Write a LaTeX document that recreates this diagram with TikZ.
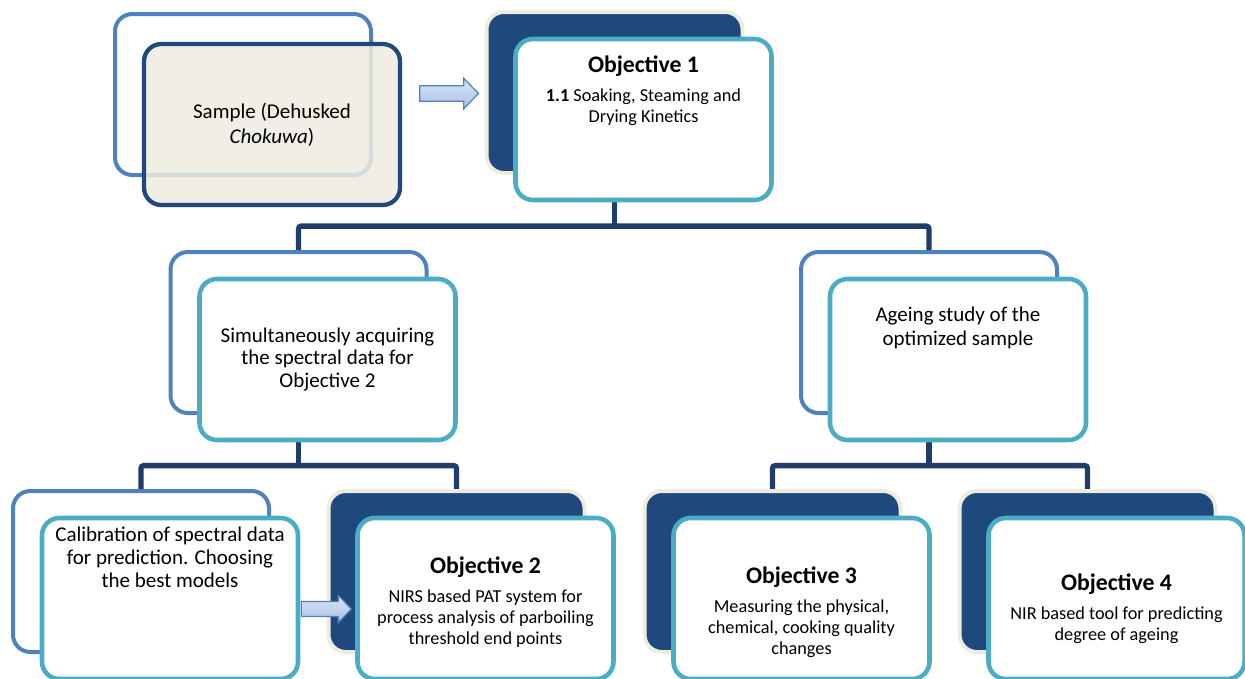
\documentclass[tikz,border=0pt]{standalone}
\usepackage{fontspec}
\setmainfont{Carlito}
\usetikzlibrary{positioning,calc,shapes.arrows,backgrounds}

\definecolor{lineblue}{HTML}{4F81BD}
\definecolor{tealblue}{HTML}{4BACC6}
\definecolor{navyfill}{HTML}{1F497D}
\definecolor{creamline}{HTML}{EEECE1}
\definecolor{treeline}{HTML}{1F3D68}
\definecolor{arrowtop}{HTML}{DCE6F5}
\definecolor{arrowbottom}{HTML}{A7C1E8}

\newcommand{\objtitle}[1]{{\bfseries\fontsize{17.8}{20}\selectfont #1}}

\begin{document}
\begin{tikzpicture}[
    x=0.75pt, y=-0.75pt,
    card/.style={rounded corners=13pt, minimum width=192pt, minimum height=120.75pt, inner sep=0pt},
    backlight/.style={card, draw=lineblue, line width=3pt, fill=white},
    backdark/.style={card, draw=creamline, line width=3pt, fill=navyfill},
    front/.style={card, draw=tealblue, line width=3.4pt, fill=white},
    samplefront/.style={card, draw=navyfill, line width=3.2pt, fill=creamline, fill opacity=.85, text opacity=1},
    body/.style={align=center, inner sep=0pt, font=\fontsize{15.75}{17.1}\selectfont},
    desc/.style={align=center, inner sep=0pt, font=\fontsize{13.7}{15.75}\selectfont},
    fatarrow/.style={single arrow, draw=lineblue, line width=0.9pt, top color=arrowtop, bottom color=arrowbottom, inner xsep=0pt, single arrow tip angle=92},
    tree/.style={draw=treeline, line width=4pt, rounded corners=2pt}
]
\useasboundingbox (0,0) rectangle (1245,678);
\clip (0,0) rectangle (1245,678);

% top row
\node[backlight] (sb) at (243,94.5) {};
\node[samplefront, body, font=\fontsize{15.75}{18.5}\selectfont] (sf) at ([shift={(29,30)}]sb.center) {Sample (Dehusked\\\textit{Chokuwa})};
\node[backdark] (o1b) at (614.5,92.5) {};
\node[front] (o1f) at ([shift={(29,27)}]o1b.center) {};
\node[desc, below=14.25pt of o1f.north] (o1text) {\objtitle{Objective 1}\\[6pt]\textbf{1.1} Soaking, Steaming and\\Drying Kinetics};
\node[fatarrow, minimum height=44pt, inner ysep=5.4pt, single arrow head extend=5.6pt] (arrow1) at ($(sf.east |- o1b.west)!.5!(o1b.west)+(2,1)$) {};

% middle row
\node[backlight] (mlb) at (298.5,332.5) {};
\node[front, body] (mlf) at ([shift={(29,27)}]mlb.center) {Simultaneously acquiring\\the spectral data for\\Objective 2};
\node[backlight] (mrb) at (929,332.5) {};
\node[front] (mrf) at ([shift={(29,27)}]mrb.center) {};
\node[body, below=22.8pt of mrf.north, font=\fontsize{15.75}{17.6}\selectfont] (mrtext) {Ageing study of the\\optimized sample};

% bottom row
\node[backlight] (cb) at (141,571.5) {};
\node[front] (cf) at ([shift={(29,27)}]cb.center) {};
\node[body, below=8.5pt of cf.north] (ctext) {Calibration of spectral data\\for prediction. Choosing\\the best models};
\node[backdark] (o2b) at (456.5,571.5) {};
\node[front] (o2f) at ([shift={(29,27)}]o2b.center) {};
\node[desc, below=30.5pt of o2f.north] (o2text) {\objtitle{Objective 2}\\[6pt]NIRS based PAT system for\\process analysis of parboiling\\threshold end points};
\node[fatarrow, minimum height=37.5pt, inner ysep=5.2pt, single arrow head extend=4.5pt] (arrow2) at ($(cf.east)!.5!(o2f.west)+(-5,10.5)$) {};
\node[backdark] (o3b) at (772.5,571.5) {};
\node[front] (o3f) at ([shift={(29,27)}]o3b.center) {};
\node[desc, below=37.9pt of o3f.north] (o3text) {\objtitle{Objective 3}\\[6pt]Measuring the physical,\\chemical, cooking quality\\changes};
\node[backdark] (o4b) at (1087.5,571.5) {};
\node[front] (o4f) at ([shift={(29,27)}]o4b.center) {};
\node[desc, below=43.1pt of o4f.north] (o4text) {\objtitle{Objective 4}\\[6pt]NIR based tool for predicting\\degree of ageing};

% tree connectors
\coordinate (bus1) at ($(o1f.south)!.5!(mlb.north)$);
\coordinate (bus2) at ($(mlf.south)!.5!(cb.north)$);
\coordinate (bus3) at ($(mrf.south)!.5!(o3b.north)$);
\begin{pgfonlayer}{background}
\draw[tree] (o1b.center) -- (o1b.center |- bus1);
\draw[tree] (mlb.north) |- (bus1) -| (mrb.north);
\draw[tree] (mlb.center) -- (mlb.center |- bus2);
\draw[tree] (cb.north) |- (bus2) -| (o2b.north);
\draw[tree] (mrb.center) -- (mrb.center |- bus3);
\draw[tree] (o3b.north) |- (bus3) -| (o4b.north);
\end{pgfonlayer}
\end{tikzpicture}
\end{document}
